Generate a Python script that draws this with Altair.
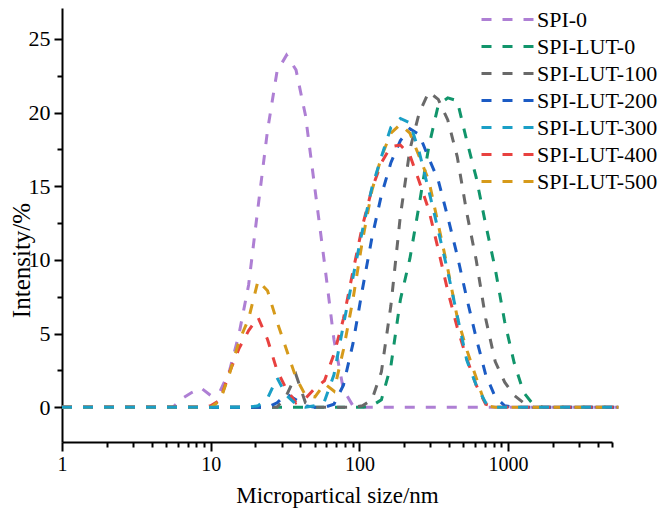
import altair as alt
import pandas as pd

# Particle size bins (nm)
SIZES = [1.0, 1.106, 1.281, 1.484, 1.718, 1.990, 2.305, 2.669, 3.091, 3.580,
         4.145, 4.801, 5.560, 6.439, 7.456, 8.635, 10.00, 11.58, 13.41, 15.53,
         17.99, 20.83, 24.12, 27.94, 32.36, 37.48, 43.41, 50.27, 58.23, 67.44,
         78.11, 90.46, 104.8, 121.4, 140.6, 162.9, 188.7, 218.7, 253.0, 293.0,
         339.3, 393.1, 455.3, 527.4, 610.4, 707.4, 819.4, 949.0, 1100, 1272,
         1473, 1706, 1976, 2288, 2650, 3070, 3555, 4117, 4768, 5522]

SERIES = ["SPI-0", "SPI-LUT-0", "SPI-LUT-100", "SPI-LUT-200",
          "SPI-LUT-300", "SPI-LUT-400", "SPI-LUT-500"]
COLORS = ["#AE7FD4", "#11956B", "#696969", "#1B5BC4",
          "#1A9FC6", "#E8413F", "#D69A1A"]

SPI_0 = [0, 0, 0, 0, 0, 0, 0, 0, 0, 0,
         0, 0, 0, 0.6, 1.0, 1.3, 0.8, 1.1, 2.5, 5.0,
         8.3, 13.6, 18.8, 22.8, 23.9, 22.9, 19.8, 14.8, 9.8, 4.6,
         1.2, 0.1, 0, 0, 0, 0, 0, 0, 0, 0,
         0, 0, 0, 0, 0, 0, 0, 0, 0, 0,
         0, 0, 0, 0, 0, 0, 0, 0, 0, 0]
SPI_LUT_0 = [0, 0, 0, 0, 0, 0, 0, 0, 0, 0,
             0, 0, 0, 0, 0, 0, 0, 0, 0, 0,
             0, 0, 0, 0, 0, 0, 0, 0, 0, 0,
             0, 0, 0, 0.1, 0.5, 2.8, 7.3, 10.1, 13.8, 17.7,
             20.5, 21.0, 20.8, 18.1, 15.6, 12.4, 9.4, 5.8, 3.0, 1.0,
             0.2, 0, 0, 0, 0, 0, 0, 0, 0, 0]
SPI_LUT_100 = [0, 0, 0, 0, 0, 0, 0, 0, 0, 0,
               0, 0, 0, 0, 0, 0, 0, 0, 0, 0,
               0, 0, 0, 0, 0.8, 2.2, 0.3, 0, 0, 0,
               0, 0, 0.1, 0.5, 2.4, 6.9, 13.0, 17.5, 20.0, 21.4,
               20.9, 19.5, 17.0, 13.2, 10.0, 6.0, 3.1, 1.7, 0.8, 0.3,
               0, 0, 0, 0, 0, 0, 0, 0, 0, 0]
SPI_LUT_200 = [0, 0, 0, 0, 0, 0, 0, 0, 0, 0,
               0, 0, 0, 0, 0, 0, 0, 0, 0, 0,
               0, 0, 0, 0.3, 0.9, 0.5, 0.1, 0, 0, 0.2,
               1.5, 4.3, 8.0, 11.5, 14.4, 16.6, 18.1, 18.9, 18.5, 16.9,
               15.4, 12.9, 10.3, 7.4, 4.7, 2.2, 0.7, 0.1, 0, 0,
               0, 0, 0, 0, 0, 0, 0, 0, 0, 0]
SPI_LUT_300 = [0, 0, 0, 0, 0, 0, 0, 0, 0, 0,
               0, 0, 0, 0, 0, 0, 0, 0, 0, 0,
               0, 0.1, 0.6, 2.0, 0.8, 0.2, 0, 0.1, 0.4, 2.2,
               5.6, 8.8, 12.0, 14.9, 17.0, 19.0, 19.6, 19.3, 17.3, 14.7,
               12.0, 9.2, 6.2, 3.2, 1.5, 0.3, 0, 0, 0, 0,
               0, 0, 0, 0, 0, 0, 0, 0, 0, 0]
SPI_LUT_400 = [0, 0, 0, 0, 0, 0, 0, 0, 0, 0,
               0, 0, 0, 0, 0, 0, 0.1, 0.5, 2.4, 4.0,
               5.2, 6.1, 4.6, 2.5, 1.2, 0.3, 0.6, 1.3, 1.8, 3.6,
               6.0, 9.2, 12.3, 14.8, 16.6, 17.7, 17.8, 17.1, 15.3, 13.4,
               10.7, 7.9, 5.4, 3.3, 1.5, 0.2, 0, 0, 0, 0,
               0, 0, 0, 0, 0, 0, 0, 0, 0, 0]
SPI_LUT_500 = [0, 0, 0, 0, 0, 0, 0, 0, 0, 0,
               0, 0, 0, 0, 0, 0, 0, 0.45, 2.3, 4.5,
               6.0, 8.6, 7.9, 5.8, 3.9, 2.0, 0.8, 0.7, 1.6, 1.1,
               3.9, 7.3, 11.3, 14.7, 17.0, 18.6, 19.2, 18.6, 17.0, 15.4,
               12.4, 9.4, 6.1, 3.9, 2.0, 0.1, 0, 0, 0, 0,
               0, 0, 0, 0, 0, 0, 0, 0, 0, 0]

VALUES = [SPI_0, SPI_LUT_0, SPI_LUT_100, SPI_LUT_200,
          SPI_LUT_300, SPI_LUT_400, SPI_LUT_500]

X_MAJOR = [1, 10, 100, 1000]
X_MINOR = [2, 3, 4, 5, 6, 7, 8, 9, 20, 30, 40, 50, 60, 70, 80, 90,
           200, 300, 400, 500, 600, 700, 800, 900, 2000, 3000, 4000, 5000]
Y_MAJOR = [0, 5, 10, 15, 20, 25]
Y_MINOR = [2.5, 7.5, 12.5, 17.5, 22.5]

DRAW_ORDER = ["SPI-0", "SPI-LUT-0", "SPI-LUT-100", "SPI-LUT-200",
              "SPI-LUT-400", "SPI-LUT-500", "SPI-LUT-300"]

rows = []
for name, vals in zip(SERIES, VALUES):
    for s, v in zip(SIZES, vals):
        rows.append({"size": s, "intensity": v, "series": name})
df = pd.DataFrame(rows)

FONT = "Liberation Serif"
X_SCALE = alt.Scale(type="log", domain=[1, 5000], nice=False)
Y_SCALE = alt.Scale(domain=[-2.36, 27.1], nice=False, zero=False)

x_axis = alt.Axis(
    values=X_MAJOR, format="d", orient="bottom",
    tickSize=9, tickWidth=2, tickColor="black", domainWidth=2, domainColor="black",
    labelFont=FONT, labelFontSize=20, labelColor="black", labelPadding=3,
    labelFlush=False, labelOverlap=False, grid=False,
    title="Micropartical size/nm", titleFont=FONT, titleFontSize=23,
    titleFontWeight="normal", titleColor="black", titlePadding=10,
)
y_axis = alt.Axis(
    values=Y_MAJOR, orient="left",
    tickSize=8, tickWidth=2, tickColor="black", domainWidth=2, domainColor="black",
    labelFont=FONT, labelFontSize=22, labelColor="black", labelPadding=4,
    labelOverlap=False, grid=False,
    title="Intensity/%", titleFont=FONT, titleFontSize=25,
    titleFontWeight="normal", titleColor="black",
    titleX=-41, titleY=252, titleBaseline="middle", titleAlign="center",
)
x_minor_axis = alt.Axis(
    values=X_MINOR, orient="bottom", labels=False, domain=False, grid=False,
    tickSize=5, tickWidth=2, tickColor="black", title=None,
)
y_minor_axis = alt.Axis(
    values=Y_MINOR, orient="left", labels=False, domain=False, grid=False,
    tickSize=5, tickWidth=2, tickColor="black", title=None,
)
legend = alt.Legend(
    title=None, orient="none", legendX=418, legendY=-2,
    symbolType="stroke", symbolSize=2704, symbolStrokeWidth=3,
    symbolDash=[10, 11], labelFont=FONT, labelFontSize=22, labelColor="black",
    labelOffset=2, clipHeight=27, rowPadding=0, padding=0,
)

base = alt.Chart(df).mark_line(strokeDash=[10, 11], strokeWidth=3).encode(
    x=alt.X("size:Q", scale=X_SCALE, axis=x_axis),
    y=alt.Y("intensity:Q", scale=Y_SCALE, axis=y_axis),
    color=alt.Color("series:N", scale=alt.Scale(domain=SERIES, range=COLORS),
                    legend=legend),
)

main = alt.layer(*[base.transform_filter(alt.datum.series == name)
                   for name in DRAW_ORDER])

minor = alt.Chart(df).mark_point(opacity=0).encode(
    x=alt.X("size:Q", scale=X_SCALE, axis=x_minor_axis),
    y=alt.Y("intensity:Q", scale=Y_SCALE, axis=y_minor_axis),
)

chart = alt.layer(main, minor).resolve_axis(
    x="independent", y="independent"
).properties(
    width=550, height=434,
    padding={"left": 54, "top": 0, "right": 49, "bottom": 66},
    autosize=alt.AutoSizeParams(type="none"),
    background="white",
).configure_view(stroke=None)

chart.save("out.html", embed_options={"renderer": "svg", "actions": False})
